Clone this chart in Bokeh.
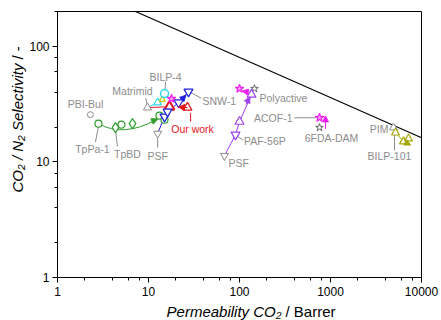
import math
from bokeh.plotting import figure
from bokeh.models import (Range1d, Label, Arrow, NormalHead, NumeralTickFormatter,
                          ColumnDataSource, LogAxis, LogTicker)
from bokeh.core.properties import value
from bokeh.embed import file_html
from bokeh.resources import INLINE

FONT = "Liberation Sans"
GRAY = "#8c8c8c"
GREEN = "#2e9e2e"
CYAN = "#2fd8e8"
RED = "#e8141c"
BLUE = "#1f1fe0"
MAGENTA = "#f020f0"
PURPLE = "#a040f0"
OLIVE = "#a6a600"

# Robeson (2008) CO2/N2 upper bound (end points)
bound_x = [7.2, 10000]
bound_y = [200, 16.2]

# reference polymers (gray, open markers)
ref_circle_x = [2.3];            ref_circle_y = [25.6]          # PBI-Bul
ref_tri_x = [9.75, 4920];        ref_tri_y = [29.5, 19.8]       # Matrimid, PIM
ref_inv_x = [12.6, 68.4];        ref_inv_y = [17.6, 11.3]       # PSF, PSF
ref_star_x = [146, 757];         ref_star_y = [43.0, 19.8]      # Polyactive, 6FDA-DAM

# TpPa-1 / TpBD (green)
green_circle_x = [2.82, 5.05, 13.2, 15.0]
green_circle_y = [21.4, 21.0, 25.1, 23.2]
green_diam_x = [4.34, 6.67]
green_diam_y = [19.8, 21.4]
green_curve = dict(x0=[2.82], y0=[21.4], cx=[5.3], cy=[16.2], x1=[12.2], y1=[23.2])

# BILP-4 (cyan)
cyan_line_x = [9.75, 12.6, 15.0]
cyan_line_y = [29.5, 32.6, 39.0]
cyan_circle_x = [15.0];  cyan_circle_y = [39.0]
cyan_tri_x = [12.6];     cyan_tri_y = [32.6]
yellow_tri_x = [14.2];   yellow_tri_y = [34.5]

# Our work (red)
red_line_x = [9.75, 17.0]
red_line_y = [29.5, 30.0]
red_bold_x = [17.0];  red_bold_y = [30.0]
red_open_x = [26.8];  red_open_y = [29.5]

# magenta stars
mag_star_x = [17.9, 100, 757]
mag_star_y = [35.2, 43.0, 24.1]

# SNW-1 (blue)
blue_line_x = [12.6, 15.0, 16.2, 21.4, 27.5]
blue_line_y = [17.6, 24.6, 27.2, 32.6, 40.5]
blue_inv_x = [15.0, 16.2, 21.4, 27.5]
blue_inv_y = [24.6, 27.2, 32.6, 40.5]

# PAF-56P (purple)
purple_line_x = [68.4, 90.4, 100, 135.5]
purple_line_y = [11.3, 17.2, 22.3, 38.2]
purple_inv_x = [90.4];        purple_inv_y = [17.2]
purple_tri_x = [100, 135.5];  purple_tri_y = [22.3, 38.2]

# BILP-101 (olive)
olive_line_x = [4920, 5180, 6340]
olive_line_y = [19.8, 17.9, 15.0]
olive_tri_x = [5180, 6340, 7200]
olive_tri_y = [17.9, 15.0, 15.9]

# axis extents and ticks
x_lo, x_hi = 1, 10000
y_lo, y_hi = 1, 200
x_ticks = [1, 10, 100, 1000, 10000]
y_ticks = [1, 10, 100]

# text annotations
ann_text = ["PBI-Bul", "TpPa-1", "TpBD", "Matrimid", "BILP-4", "SNW-1", "PSF",
            "Polyactive", "PAF-56P", "PSF", "ACOF-1", "6FDA-DAM", "PIM", "BILP-101"]
ann_x = [2.03, 2.42, 5.88, 6.67, 15.4, 39.2, 12.6, 166, 112, 75.7, 382, 1026, 4340, 4450]
ann_y = [31.9, 13.0, 11.6, 41.3, 54.6, 33.9, 11.3, 36.0, 15.3, 9.86, 24.1, 16.2, 19.4, 11.3]
ann_align = ["center", "center", "center", "center", "center", "left", "center",
             "left", "left", "left", "right", "center", "right", "center"]

lead_xs = [[2.82, 2.61], [4.34, 4.56], [9.3, 9.75], [15.4, 15.2], [29, 38], [12.6, 12.6],
           [93, 110], [400, 690], [5050, 5050]]
lead_ys = [[20.3, 14.8], [18.8, 13.6], [35.5, 31.0], [49.5, 41.5], [40, 35.5], [16.2, 13.3],
           [16.8, 15.4], [24.1, 24.1], [18.5, 12.6]]

# frame covers whole canvas; plot box 57..421 x 11..277 px
W_PX, H_PX = 441, 320
L, R, T, B = 57, 421, 11, 277
dx = (math.log10(x_hi) - math.log10(x_lo)) / (R - L)
dy = (math.log10(y_hi) - math.log10(y_lo)) / (B - T)
xr = Range1d(10 ** (math.log10(x_lo) - L * dx), 10 ** (math.log10(x_hi) + (W_PX - R) * dx))
yr = Range1d(10 ** (math.log10(y_lo) - (H_PX - B) * dy), 10 ** (math.log10(y_hi) + T * dy))

p = figure(width=W_PX, height=H_PX, x_axis_type="log", y_axis_type="log",
           x_range=xr, y_range=yr, x_axis_location=None, y_axis_location=None,
           output_backend="svg", toolbar_location=None,
           min_border=0)
p.grid.visible = False
p.outline_line_color = None
p.background_fill_color = "white"
p.border_fill_color = "white"

xaxis = LogAxis(fixed_location=y_lo, bounds=(x_lo, x_hi), ticker=LogTicker())
yaxis = LogAxis(fixed_location=x_lo, bounds=(y_lo, y_hi), ticker=LogTicker())
for ax in (xaxis, yaxis):
    ax.major_label_text_font = FONT
    ax.major_label_text_font_size = "12px"
    ax.major_label_text_color = "black"
    ax.major_tick_in = 0
    ax.major_tick_out = 5
    ax.minor_tick_in = 0
    ax.minor_tick_out = 3
    ax.axis_line_color = "black"
    ax.formatter = NumeralTickFormatter(format="0")
xaxis.major_label_standoff = 4
yaxis.major_label_standoff = 3
p.add_layout(xaxis, "below")
p.add_layout(yaxis, "left")

# box top / right
p.line([x_lo, x_hi, x_hi], [y_hi, y_hi, y_lo], line_color="black", line_width=1)

# upper bound
p.line(bound_x, bound_y, line_color="black", line_width=1.2)

# leader lines
p.multi_line(lead_xs, lead_ys, line_color=GRAY, line_width=1)
p.line([29, 29], [26.5, 22.3], line_color=RED, line_width=1)

# series lines
p.quadratic(source=ColumnDataSource(green_curve), x0="x0", y0="y0", x1="x1", y1="y1",
            cx="cx", cy="cy", line_color=GREEN, line_width=1)
p.line(cyan_line_x, cyan_line_y, line_color=CYAN, line_width=1)
p.line(red_line_x, red_line_y, line_color=RED, line_width=1)
p.line(blue_line_x, blue_line_y, line_color=BLUE, line_width=1)
p.line(purple_line_x, purple_line_y, line_color=PURPLE, line_width=1)
p.line(olive_line_x, olive_line_y, line_color=OLIVE, line_width=1)

def arrow(x0, y0, x1, y1, color):
    p.add_layout(Arrow(x_start=x0, y_start=y0, x_end=x1, y_end=y1, line_color=color, line_width=1,
                       end=NormalHead(size=6, fill_color=color, line_color=color)))

arrow(10.8, 22.3, 12.6, 23.5, GREEN)
arrow(26.8, 29.5, 21.4, 29.8, RED)
arrow(23.0, 34.4, 25.8, 37.8, BLUE)
arrow(118, 31.5, 130, 36.5, PURPLE)
arrow(127, 40.0, 107, 41.0, MAGENTA)
arrow(881, 19.3, 881, 25.0, MAGENTA)
arrow(6700, 14.7, 7600, 14.0, OLIVE)

# markers
Wc = "white"
p.scatter(ref_circle_x, ref_circle_y, marker="circle", size=6, line_color=GRAY, fill_color=Wc)
p.scatter(ref_tri_x, ref_tri_y, marker="triangle", size=8, line_color=GRAY, fill_color=Wc)
p.scatter(ref_inv_x, ref_inv_y, marker="inverted_triangle", size=8, line_color=GRAY, fill_color=Wc)
p.scatter(ref_star_x, ref_star_y, marker="star", size=8, line_color="#666666", fill_color=Wc)

p.scatter(green_circle_x, green_circle_y, marker="circle", size=7, line_color=GREEN, fill_color=Wc, line_width=1.2)
p.scatter(green_diam_x, green_diam_y, marker="diamond", size=10, line_color=GREEN, fill_color=Wc, line_width=1.2)

p.scatter(cyan_tri_x, cyan_tri_y, marker="triangle", size=8, line_color=CYAN, fill_color=Wc, line_width=1.2)
p.scatter(yellow_tri_x, yellow_tri_y, marker="triangle", size=6, line_color="#c8c800", fill_color=Wc, line_width=1.2)
p.scatter(cyan_circle_x, cyan_circle_y, marker="circle", size=8, line_color=CYAN, fill_color=Wc, line_width=1.5)

p.scatter(red_bold_x, red_bold_y, marker="triangle", size=10, line_color=RED, fill_color=Wc, line_width=2)
p.scatter(red_open_x, red_open_y, marker="triangle", size=9, line_color=RED, fill_color=Wc, line_width=1.2)

p.scatter(blue_inv_x, blue_inv_y, marker="inverted_triangle", size=9, line_color=BLUE, fill_color=Wc, line_width=1.2)

p.scatter(purple_inv_x, purple_inv_y, marker="inverted_triangle", size=9, line_color=PURPLE, fill_color=Wc, line_width=1.2)
p.scatter(purple_tri_x, purple_tri_y, marker="triangle", size=9, line_color=PURPLE, fill_color=Wc, line_width=1.2)

p.scatter(olive_tri_x, olive_tri_y, marker="triangle", size=8, line_color=OLIVE, fill_color=Wc, line_width=1.2)

p.scatter(mag_star_x, mag_star_y, marker="star", size=9, line_color=MAGENTA, fill_color="#f8a0f8", line_width=1.2)

# text annotations
src = ColumnDataSource(dict(x=ann_x, y=ann_y, t=ann_text, a=ann_align))
p.text(x="x", y="y", text="t", text_align="a", source=src, text_baseline="middle",
       text_font=value(FONT), text_font_size=value("10.5px"), text_color=GRAY)
p.text(x=[30.5], y=[19.4], text=["Our work"], text_align="center", text_baseline="middle",
       text_font=value(FONT), text_font_size=value("10.5px"), text_color=RED)

# axis titles (screen units, origin at canvas bottom-left since frame fills canvas)
p.add_layout(Label(x=281, y=H_PX - 311, x_units="screen", y_units="screen", text="Permeability CO\u2082",
                   text_align="right", text_baseline="middle", text_font=FONT,
                   text_font_size="15px", text_font_style="italic", text_color="black"))
p.add_layout(Label(x=285, y=H_PX - 311, x_units="screen", y_units="screen", text="/ Barrer",
                   text_align="left", text_baseline="middle", text_font=FONT,
                   text_font_size="15px", text_color="black"))
p.add_layout(Label(x=17, y=H_PX - 63, x_units="screen", y_units="screen", text="CO\u2082 / N\u2082 Selectivity",
                   angle=math.pi / 2, text_align="right", text_baseline="middle", text_font=FONT,
                   text_font_size="15px", text_font_style="italic", text_color="black"))
p.add_layout(Label(x=17, y=H_PX - 59, x_units="screen", y_units="screen", text="/ -",
                   angle=math.pi / 2, text_align="left", text_baseline="middle", text_font=FONT,
                   text_font_size="15px", text_color="black"))

open("out.html", "w").write(file_html(p, INLINE))
